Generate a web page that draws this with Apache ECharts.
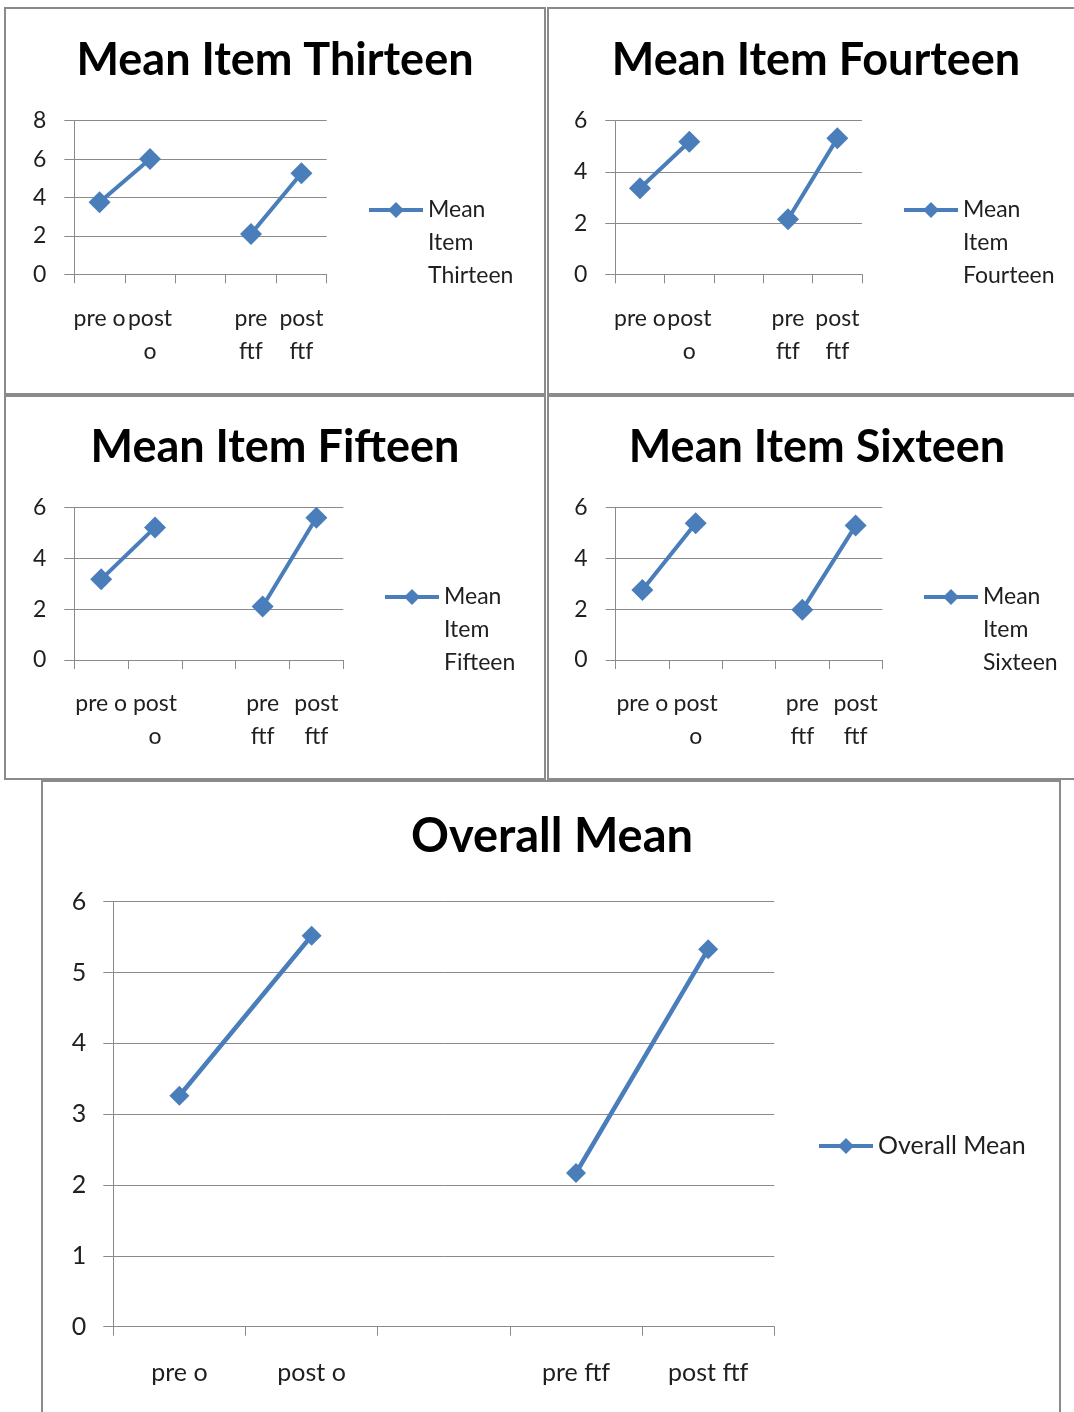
<!DOCTYPE html>
<html>
<head>
<meta charset="utf-8">
<title>Mean Items</title>
<script src="https://cdn.jsdelivr.net/npm/echarts@6/dist/echarts.min.js"></script>
<style>
  html, body { margin: 0; padding: 0; background: #fff; }
  #chart { width: 1074px; height: 1412px; }
</style>
</head>
<body>
<div id="chart"></div>
<script>
// Category slots: the empty slot separates the "o" and "ftf" groups.
const categories = ['pre o', 'post o', '', 'pre ftf', 'post ftf'];
const wrappedLabels = ['pre o', 'post\no', '', 'pre\nftf', 'post\nftf'];

// Means per item (null = empty slot, breaks the line).
const item13 = [3.75, 6.0, null, 2.1, 5.26];
const item14 = [3.36, 5.18, null, 2.15, 5.31];
const item15 = [3.17, 5.21, null, 2.1, 5.59];
const item16 = [2.75, 5.37, null, 1.97, 5.28];
const overallMean = [3.26, 5.52, null, 2.17, 5.33];

const seriesNames = ['Mean Item Thirteen', 'Mean Item Fourteen', 'Mean Item Fifteen', 'Mean Item Sixteen', 'Overall Mean'];
const seriesValues = [item13, item14, item15, item16, overallMean];
const yMax = [8, 6, 6, 6, 6];
const yStep = [2, 2, 2, 2, 1];

const FONT = 'Lato, "Open Sans", sans-serif';
const BLUE = '#4a7ebb';
const GRAY = '#8a8a8a';
const TEXT = '#1f1f1f';

// Layout of each panel: frame, plot area, title centre, legend anchor.
const panels = [
  { frame: [5, 8, 540, 386],   grid: [74.3, 120.7, 252.4, 153.6], title: [275, 60],  legend: [367, 210], big: false },
  { frame: [548, 8, 540, 386], grid: [615.3, 120.7, 246.7, 153.6], title: [816, 60], legend: [902, 210], big: false },
  { frame: [5, 396, 540, 383], grid: [74.3, 507.3, 269, 152.7],   title: [275, 447], legend: [383, 597], big: false },
  { frame: [548, 396, 540, 383], grid: [615.7, 507.3, 266.6, 152.7], title: [817, 447], legend: [922, 597], big: false },
  { frame: [42, 781, 1018, 640], grid: [113.3, 901.7, 661, 425],  title: [552, 837], legend: [817, 1146], big: true }
];

const option = {
  backgroundColor: '#ffffff',
  animation: false,
  title: [], legend: [], grid: [], xAxis: [], yAxis: [], series: [],
  graphic: []
};

panels.forEach((p, i) => {
  const big = p.big;
  const labelSize = big ? 25 : 23;
  const legendSize = big ? 25 : 23;
  const lh = 33;
  const titleSize = big ? 47 : 45;

  option.graphic.push({
    type: 'rect', silent: true, z: -1,
    shape: { x: p.frame[0], y: p.frame[1], width: p.frame[2], height: p.frame[3] },
    style: { fill: 'none', stroke: GRAY, lineWidth: 2 }
  });

  option.title.push({
    text: seriesNames[i],
    left: p.title[0], top: p.title[1] - titleSize * 0.6,
    textAlign: 'center', padding: 0,
    textStyle: { fontFamily: FONT, fontWeight: 'bold', fontSize: titleSize, lineHeight: titleSize * 1.2, color: '#000' }
  });

  option.grid.push({
    left: p.grid[0], top: p.grid[1], width: p.grid[2], height: p.grid[3],
    containLabel: false, outerBoundsMode: 'none'
  });

  option.xAxis.push({
    type: 'category', gridIndex: i, data: categories, boundaryGap: true,
    axisLine: { show: true, lineStyle: { color: GRAY, width: 1 } },
    axisTick: { show: true, length: 9, interval: 0, lineStyle: { color: GRAY, width: 1 } },
    axisLabel: {
      interval: 0, margin: big ? 31 : 27.5,
      fontFamily: FONT, fontSize: labelSize, lineHeight: big ? 30 : lh, color: TEXT,
      formatter: (v, idx) => big ? categories[idx] : wrappedLabels[idx]
    },
    splitLine: { show: false }
  });

  option.yAxis.push({
    type: 'value', gridIndex: i, min: 0, max: yMax[i], interval: yStep[i],
    axisLine: { show: true, lineStyle: { color: GRAY, width: 1 } },
    axisTick: { show: true, length: 10, inside: false, lineStyle: { color: GRAY, width: 1 } },
    axisLabel: { margin: big ? 27 : 28, fontFamily: FONT, fontSize: labelSize, color: TEXT },
    splitLine: { show: true, lineStyle: { color: GRAY, width: 1 } }
  });

  option.series.push({
    type: 'line', name: seriesNames[i], xAxisIndex: i, yAxisIndex: i,
    data: seriesValues[i], connectNulls: false,
    symbol: 'diamond', symbolSize: big ? 20 : 22,
    lineStyle: { color: BLUE, width: big ? 4.5 : 4 },
    itemStyle: { color: BLUE },
    emphasis: { disabled: true }
  });

  // Legend text block: small panels wrap the name over three lines, with the
  // marker level with the first line.
  const legendText = big ? seriesNames[i] : '\n\n' + seriesNames[i].split(' ').join('\n');
  const blockH = big ? 30 : 5 * lh;
  option.legend.push({
    data: [seriesNames[i]],
    left: p.legend[0], top: p.legend[1] - blockH / 2,
    padding: 0, itemWidth: 54, itemHeight: 20,
    selectedMode: false,
    formatter: () => legendText,
    lineStyle: { width: 4 },
    textStyle: { fontFamily: FONT, fontSize: legendSize, lineHeight: big ? 30 : lh, color: TEXT }
  });
});

const chart = echarts.init(document.getElementById('chart'), null, { renderer: 'canvas' });
chart.setOption(option);
</script>
</body>
</html>
